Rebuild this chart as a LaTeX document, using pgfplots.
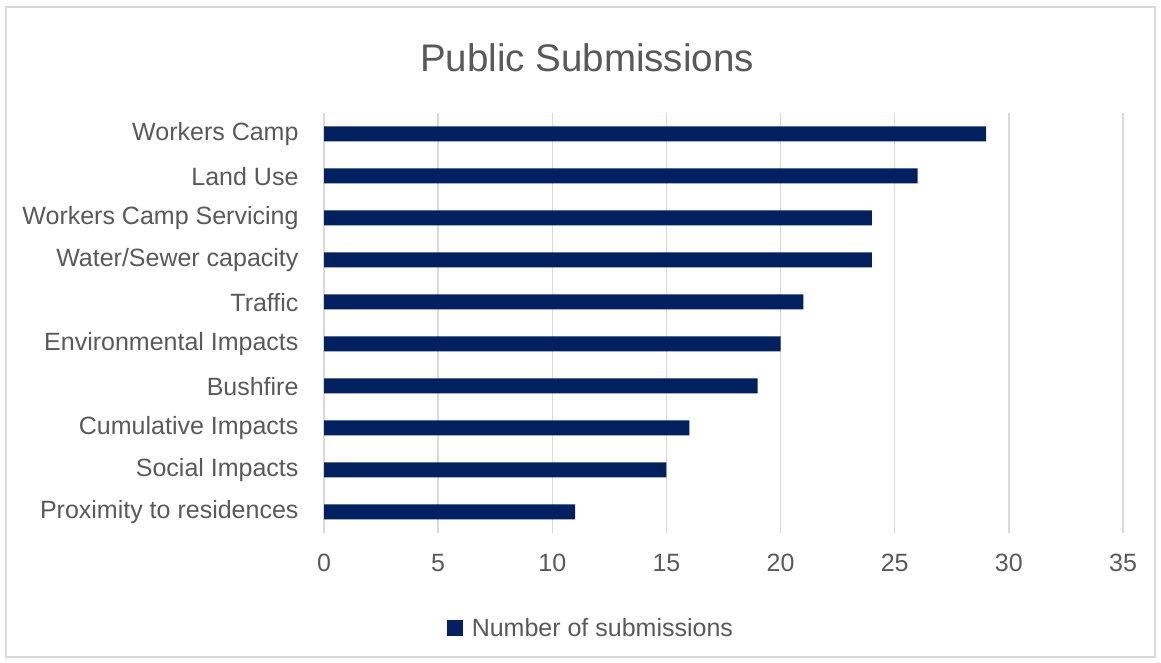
\documentclass[border=0pt]{standalone}
\usepackage{pgfplots}
\pgfplotsset{compat=1.18}
\usepackage{fontspec}
\setmainfont{Liberation Sans}
\definecolor{barc}{RGB}{0,32,96}
\definecolor{txt}{RGB}{89,89,89}
\definecolor{gridc}{RGB}{217,217,217}
\begin{document}
\begin{tikzpicture}[x=1pt,y=1pt]
\useasboundingbox (0,0) rectangle (1161,663);
\draw[gridc,line width=1.5pt] (6,6) rectangle (1155,656);
\node[text=txt,font=\fontsize{38.5}{44}\selectfont] at (587,605) {Public Submissions};
\begin{axis}[
  at={(324pt,130pt)}, anchor=south west,
  scale only axis, width=799pt, height=420pt,
  xmin=0, xmax=35, ymin=-0.5, ymax=9.5,
  xtick={0,5,...,35},
  ytick={0,...,9},
  yticklabels={Proximity to residences,Social Impacts,Cumulative Impacts,Bushfire,Environmental Impacts,Traffic,Water/Sewer capacity,Workers Camp Servicing,Land Use,Workers Camp},
  axis line style={draw=none},
  major tick length=0pt,
  xmajorgrids, grid style={gridc,line width=1.5pt},
  tick label style={text=txt,font=\fontsize{25}{30}\selectfont},
  xticklabel style={yshift=-18pt},
  yticklabel style={xshift=-22pt, yshift=-0.5pt},
  /pgf/number format/assume math mode=true,
  legend style={at={(0.334,-0.226)},anchor=center,draw=none,fill=none,
    font=\fontsize{25}{30}\selectfont,text=txt, inner sep=0pt,
    /tikz/every odd column/.append style={column sep=7pt}},
  legend cell align=left,
  legend image code/.code={\fill[barc] (0pt,-8pt) rectangle (16pt,8pt);},
]
\addplot[xbar, bar width=15pt, fill=barc, draw=none] coordinates {
(11,0) (15,1) (16,2) (19,3) (20,4) (21,5) (24,6) (24,7) (26,8) (29,9)};
\addlegendentry{Number of submissions}
\end{axis}
\end{tikzpicture}
\end{document}
